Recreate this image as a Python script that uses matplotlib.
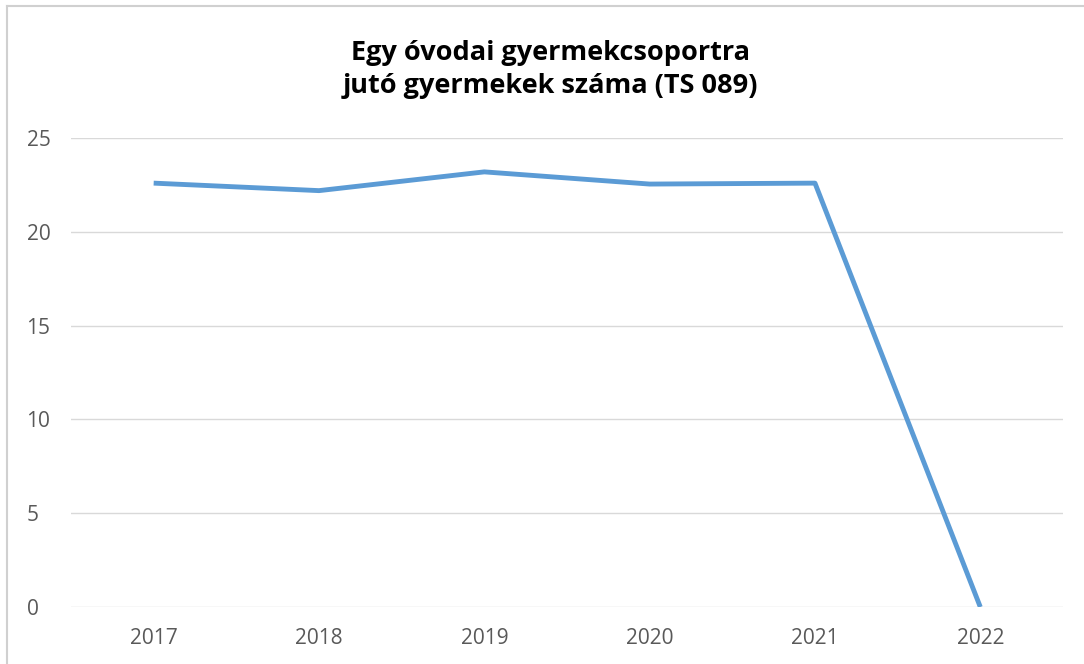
import matplotlib.pyplot as plt
from matplotlib.lines import Line2D

# Data
years = ['2017', '2018', '2019', '2020', '2021', '2022']
children_per_group = [22.6, 22.2, 23.2, 22.55, 22.6, 0]
y_ticks = [0, 5, 10, 15, 20, 25]

title = "Egy óvodai gyermekcsoportra\njutó gyermekek száma (TS 089)"

plt.rcParams['font.family'] = ['Open Sans', 'DejaVu Sans']

fig = plt.figure(figsize=(10.84, 6.64), dpi=100)
ax = fig.add_axes([0.0655, 0.0858, 0.9151, 0.7062])

x = range(len(years))
ax.plot(x, children_per_group, color='#5B9BD5', linewidth=3.5, solid_capstyle='butt')

ax.set_xlim(-0.5, len(years) - 0.5)
ax.set_ylim(0, 25)
ax.set_xticks(list(x))
ax.set_xticklabels(years)
ax.set_yticks(y_ticks)
ax.grid(axis='y', color='#D9D9D9', linewidth=1)
ax.set_axisbelow(True)
for s in ax.spines.values():
    s.set_visible(False)
ax.tick_params(length=0, labelsize=15, labelcolor='#595959')
ax.tick_params(axis='x', pad=15)
ax.tick_params(axis='y', pad=32)
for lab in ax.get_yticklabels():
    lab.set_horizontalalignment('left')

fig.text(0.508, 0.895, title, ha='center', va='center', fontsize=19.5,
         fontweight='bold', color='#000000', linespacing=1.35)

# outer chart frame
fig.add_artist(Line2D([7 / 1084, 1.0], [1 - 6 / 664] * 2, color='#D0D0D0', lw=1.5,
                      transform=fig.transFigure))
fig.add_artist(Line2D([7 / 1084] * 2, [0, 1 - 6 / 664], color='#D0D0D0', lw=1.5,
                      transform=fig.transFigure))

fig.savefig('out.png', dpi=100, facecolor='white')
